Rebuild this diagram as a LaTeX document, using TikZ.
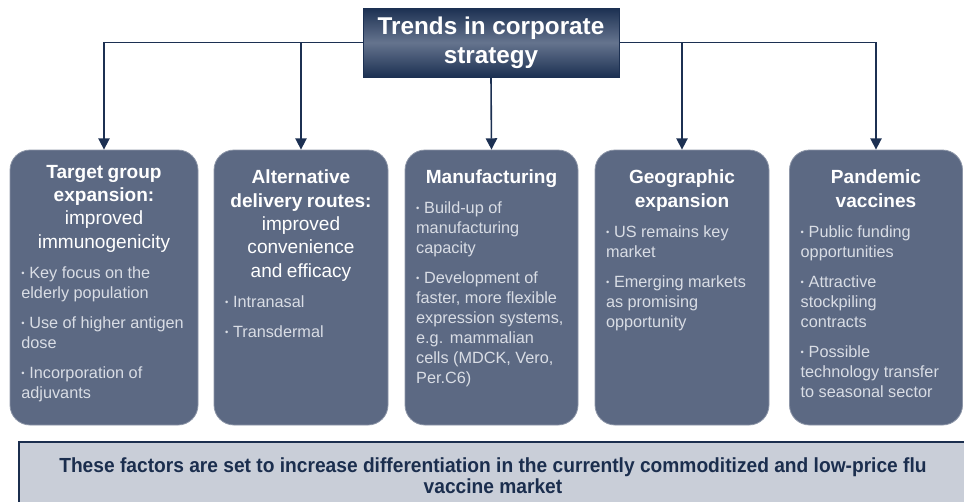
\documentclass[tikz,border=0pt]{standalone}
\usepackage{fontspec}
\setmainfont{Liberation Sans}
\newfontfamily\narrowsans[FakeStretch=0.94]{Liberation Sans}
\usetikzlibrary{arrows.meta,positioning}
\definecolor{cnavy}{HTML}{1C3052}
\definecolor{cnavyL}{HTML}{65748E}
\definecolor{ccard}{HTML}{5C6983}
\definecolor{ccardT}{HTML}{D9DDE5}
\definecolor{cfoot}{HTML}{C9CED8}
\definecolor{cfootD}{HTML}{1B2E4E}

% text pieces inside the cards
\newcommand{\cardhead}[1]{{\centering\fontsize{14.3}{17.5}\selectfont\bfseries\color{white}#1\par}}
\newcommand{\cardsub}[1]{{\centering\fontsize{14.3}{17.5}\selectfont\color{white}#1\par}}
\newcommand{\bul}[1]{{\fontsize{12.2}{15}\selectfont\color{ccardT}\vspace{7.5pt}%
  \hangindent=6pt\hangafter=1\noindent\makebox[6pt][l]{\raisebox{0.2ex}{\scriptsize\textbullet}}#1\par}}

\tikzset{
  headbox/.style={draw=cnavy, top color=cnavy, bottom color=cnavy, middle color=cnavyL,
                  minimum width=192pt, minimum height=51.75pt, align=center, text=white,
                  font=\fontsize{18.2}{22}\selectfont\bfseries},
  card/.style={draw=ccard!70!white, line width=0.6pt, fill=ccard, rounded corners=15pt,
               minimum height=206.25pt},
  cardtext/.style={inner sep=0pt, align=left, anchor=north},
  footbox/.style={draw=cfootD, line width=1.5pt, fill=cfoot, minimum width=711pt,
                  minimum height=51.75pt, align=center, text=cfootD,
                  font=\narrowsans\fontsize{15.3}{15.5}\selectfont\bfseries},
  link/.style={draw=cnavy, line width=1.2pt, -{Triangle[length=8.5pt,width=8.5pt]}},
}

\begin{document}
\begin{tikzpicture}[x=0.75pt,y=-0.75pt]
  \useasboundingbox (0,0) rectangle (964,501);

  \node[headbox] (top) at (491,42.5) {Trends in corporate\\strategy};

  % the five cards
  \node[card, minimum width=141pt] (tg) at (104,287.5) {};
  \node[card, minimum width=130.5pt] (ad) at (301,287.5) {};
  \node[card, minimum width=129.75pt] (mf) at (491.5,287.5) {};
  \node[card, minimum width=130.5pt] (ge) at (682,287.5) {};
  \node[card, minimum width=129.75pt] (pv) at (876,287.5) {};

  \node[cardtext, text width=124pt, below=11.5pt of tg.north] (tgt) {%
    \cardhead{Target group\\expansion:}
    \cardsub{improved\\immunogenicity}
    \bul{Key focus on the\\elderly population}
    \bul{Use of higher antigen\\dose}
    \bul{Incorporation of\\adjuvants}};
  \node[cardtext, text width=114pt, below=15pt of ad.north] (adt) {%
    \cardhead{Alternative\\delivery routes:}
    \cardsub{improved\\convenience\\and efficacy}
    \bul{Intranasal}
    \bul{Transdermal}};
  \node[cardtext, text width=113pt, below=15pt of mf.north] (mft) {%
    \cardhead{Manufacturing}
    \bul{Build-up of\\manufacturing\\capacity}
    \bul{Development of\\faster, more flexible\\expression systems,\\e.g. mammalian\\cells (MDCK, Vero,\\Per.C6)}};
  \node[cardtext, text width=114pt, below=15pt of ge.north] (get) {%
    \cardhead{Geographic\\expansion}
    \bul{US remains key\\market}
    \bul{Emerging markets\\as promising\\opportunity}};
  \node[cardtext, text width=113pt, below=15pt of pv.north] (pvt) {%
    \cardhead{Pandemic\\vaccines}
    \bul{Public funding\\opportunities}
    \bul{Attractive\\stockpiling\\contracts}
    \bul{Possible\\technology transfer\\to seasonal sector}};

  % branches from the headline
  \draw[link] (top.west) -| (tg.north);
  \draw[link] (ad.north |- top.west) -- (ad.north);
  \draw[link] (top.south) -- (mf.north);
  \draw[link] (ge.north |- top.east) -- (ge.north);
  \draw[link] (top.east) -| (pv.north);

  \node[footbox] (ft) at (493,476) {These factors are set to increase differentiation in the currently commoditized and low-price flu\\vaccine market};
\end{tikzpicture}
\end{document}
